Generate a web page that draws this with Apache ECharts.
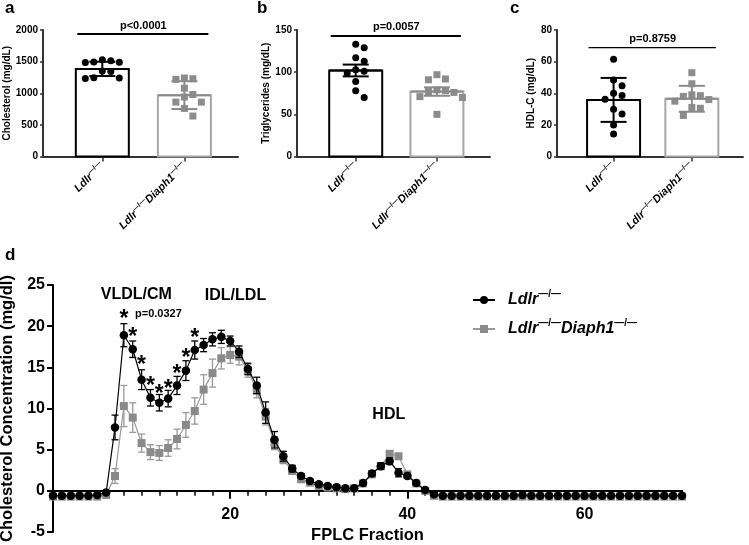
<!DOCTYPE html>
<html>
<head>
<meta charset="utf-8">
<script src="https://cdn.jsdelivr.net/npm/echarts@6.0.0/dist/echarts.min.js"></script>
<style>
  html, body { margin: 0; padding: 0; background: #fff; }
  #chart { width: 749px; height: 545px; }
</style>
</head>
<body>
<div id="chart"></div>
<script>
// groups
var groups = ['Ldlr-/-', 'Ldlr-/-Diaph1-/-'];

// a: plasma cholesterol (mg/dL)
var cholLdlr = [1530, 1515, 1495, 1490, 1485, 1350, 1345, 1245, 1240, 1235];
var cholDiaph = [1240, 1230, 1220, 1080, 980, 940, 860, 860, 760, 640];
var cholMean = [1385, 970];
var cholErr = [113, 220];

// b: triglycerides (mg/dL)
var tgLdlr = [133, 129, 117, 113, 103, 101, 99, 89, 78, 70];
var tgDiaph = [97, 92, 91, 79, 78, 77, 76, 71, 70, 50];
var tgMean = [102, 77];
var tgErr = [7, 5];

// c: HDL-C (mg/dL)
var hdlLdlr = [61.5, 48.4, 44.8, 40, 38.5, 36.2, 29.9, 26.8, 20, 14.3];
var hdlDiaph = [53, 46, 39, 38.5, 38, 36, 35, 31, 30.5, 26];
var hdlMean = [35.8, 36.5];
var hdlErr = [13.9, 8.2];

var pLabels = ['p<0.0001', 'p=0.0057', 'p=0.8759'];

// d: FPLC profile, fractions 0..71
var ldlrMean = [-0.6, -0.6, -0.6, -0.6, -0.6, -0.5, -0.2,
  7.7, 18.9, 17.2, 13.5, 11.3, 10.7, 11.2, 12.8, 14.6, 17.1,
  17.7, 18.4, 18.7, 18.2, 16.9, 14.8, 12.8, 9.5, 6.2, 4.2,
  2.7, 1.8, 1.2, 0.8, 0.6, 0.45, 0.3, 0.3, 0.95, 2.1,
  3.0, 3.6, 2.2, 1.8, 0.95, 0.1, -0.4,
  -0.6, -0.6, -0.6, -0.6, -0.6, -0.6, -0.6, -0.6, -0.6, -0.5, -0.6, -0.6, -0.6, -0.6,
  -0.6, -0.6, -0.6, -0.6, -0.6, -0.6, -0.6, -0.6, -0.6, -0.6, -0.6, -0.6, -0.6, -0.6];
var ldlrErr = [0.1, 0.1, 0.1, 0.1, 0.1, 0.1, 0.1,
  1.5, 1.4, 1.0, 1.2, 1.0, 1.0, 1.0, 1.1, 1.2, 1.1,
  0.8, 0.8, 0.8, 0.6, 0.7, 0.7, 1.0, 1.3, 1.0, 0.6,
  0.4, 0.3, 0.2, 0.2, 0.2, 0.2, 0.2, 0.2, 0.2, 0.3,
  0.4, 0.4, 0.5, 0.3, 0.2, 0.1, 0.1,
  0.1, 0.1, 0.1, 0.1, 0.1, 0.1, 0.1, 0.1, 0.1, 0.1, 0.1, 0.1, 0.1, 0.1,
  0.1, 0.1, 0.1, 0.1, 0.1, 0.1, 0.1, 0.1, 0.1, 0.1, 0.1, 0.1, 0.1, 0.1];
var diaphMean = [-0.7, -0.7, -0.7, -0.7, -0.7, -0.7, -0.5,
  1.8, 10.3, 8.9, 5.8, 4.7, 4.6, 5.2, 6.3, 8.0, 9.7,
  12.3, 14.3, 16.1, 16.5, 16.3, 14.6, 12.2, 9.0, 5.8, 3.8,
  2.4, 1.4, 1.0, 0.6, 0.4, 0.3, 0.2, 0.3, 0.9, 2.0,
  3.0, 4.5, 4.2, 2.0, 0.9, 0.0, -0.6,
  -0.7, -0.7, -0.7, -0.7, -0.7, -0.7, -0.7, -0.7, -0.7, -0.7, -0.7, -0.7, -0.7, -0.7,
  -0.7, -0.7, -0.7, -0.7, -0.7, -0.7, -0.7, -0.7, -0.7, -0.7, -0.7, -0.7, -0.7, -0.7];
var diaphErr = [0.1, 0.1, 0.1, 0.1, 0.1, 0.1, 0.1,
  0.9, 2.5, 1.8, 1.1, 0.9, 0.9, 1.0, 1.2, 1.5, 1.6,
  1.8, 1.7, 1.3, 1.0, 1.0, 0.8, 0.9, 1.0, 0.8, 0.5,
  0.3, 0.2, 0.2, 0.1, 0.1, 0.1, 0.1, 0.1, 0.2, 0.2,
  0.3, 0.3, 0.3, 0.2, 0.2, 0.1, 0.1,
  0.1, 0.1, 0.1, 0.1, 0.1, 0.1, 0.1, 0.1, 0.1, 0.1, 0.1, 0.1, 0.1, 0.1,
  0.1, 0.1, 0.1, 0.1, 0.1, 0.1, 0.1, 0.1, 0.1, 0.1, 0.1, 0.1, 0.1, 0.1];

// significance stars on the Ldlr curve
var starFrac = [8, 9, 10, 11, 12, 13, 14, 15, 16];
var starY = [21.6, 19.4, 16.0, 13.5, 12.5, 13.1, 15.0, 16.9, 19.3];

// peak labels
var annText = ['VLDL/CM', 'IDL/LDL', 'HDL', 'p=0.0327'];
var annX = [9.4, 20.6, 37.9, 11.9];
var annY = [23.8, 23.7, 9.2, 21.5];

var FONT = '"Liberation Sans", Arial, Helvetica, sans-serif';
var BLACK = '#000';
var GREY = '#8c8c8c';
var catPos = [0.73, 1.74];
var XMAX = 2.4;
var TOP = 30, H = 126.5;

function richName(name) {
  return name.split('-/-').filter(Boolean).map(function (p) {
    return '{i|' + p + '}{s|\u2014/\u2014}';
  }).join('');
}

// simple beeswarm: push dots sideways until they stop overlapping
function swarm(vals, pxPerY, d) {
  var placed = [], out = [];
  vals.forEach(function (v) {
    var y = v * pxPerY, off = 0;
    for (var k = 0; k < 40; k++) {
      off = k === 0 ? 0 : (k % 2 ? 1 : -1) * Math.ceil(k / 2) * d;
      var hit = placed.some(function (p) {
        return (p[0] - off) * (p[0] - off) + (p[1] - y) * (p[1] - y) < d * d * 0.95;
      });
      if (!hit) break;
    }
    placed.push([off, y]);
    out.push(off);
  });
  return out;
}

var tops = [
  { left: 43, width: 195, yMax: 2000, yStep: 500, title: 'Cholesterol (mg/dL)', gap: 28,
    dots: [cholLdlr, cholDiaph], mean: cholMean, err: cholErr, sigY: 1936, sigW: 2 },
  { left: 297, width: 193, yMax: 150, yStep: 50, title: 'Triglycerides (mg/dL)', gap: 24,
    dots: [tgLdlr, tgDiaph], mean: tgMean, err: tgErr, sigY: 143, sigW: 2 },
  { left: 557, width: 186, yMax: 80, yStep: 20, title: 'HDL-C (mg/dL)', gap: 21,
    dots: [hdlLdlr, hdlDiaph], mean: hdlMean, err: hdlErr, sigY: 68.8, sigW: 1.2 }
];

var grids = [], xAxes = [], yAxes = [], series = [];
var axisLine = { lineStyle: { color: '#333', width: 2 } };

tops.forEach(function (pn, i) {
  grids.push({ left: pn.left, top: TOP, width: pn.width, height: H, containLabel: false, outerBoundsMode: 'none' });
  xAxes.push({
    type: 'value', gridIndex: i, min: 0, max: XMAX,
    axisLine: axisLine, splitLine: { show: false },
    axisTick: { customValues: catPos, length: 5, lineStyle: { color: '#333', width: 1.5 } },
    axisLabel: {
      customValues: catPos, rotate: 45, margin: 8,
      formatter: function (v) { return richName(v < 1.2 ? groups[0] : groups[1]); },
      rich: {
        i: { fontFamily: FONT, fontSize: 11, fontWeight: 'bold', fontStyle: 'italic', color: '#000', lineHeight: 14 },
        s: { fontFamily: FONT, fontSize: 7, fontWeight: 'bold', color: '#000', verticalAlign: 'top', lineHeight: 7 }
      }
    }
  });
  yAxes.push({
    type: 'value', gridIndex: i, min: 0, max: pn.yMax, interval: pn.yStep,
    name: pn.title, nameLocation: 'middle', nameGap: pn.gap,
    nameTextStyle: { fontFamily: FONT, fontSize: 10, fontWeight: 'bold', color: '#000' },
    axisLine: { show: true, lineStyle: { color: '#333', width: 2 } },
    axisTick: { show: true, length: 3, lineStyle: { color: '#333', width: 1.5 } },
    axisLabel: { margin: 5, fontFamily: FONT, fontSize: 10, fontWeight: 'bold', color: '#000',
                 formatter: function (v) { return String(v); } },
    splitLine: { show: false }
  });

  var pxPerY = H / pn.yMax, pxPerX = pn.width / XMAX;
  var colors = [BLACK, GREY];
  var barEdge = [BLACK, '#a6a6a6'];

  series.push({
    type: 'custom', xAxisIndex: i, yAxisIndex: i, z: 1, silent: true,
    data: pn.mean.map(function (m, j) { return [catPos[j], m, j]; }),
    renderItem: function (params, api) {
      var base = api.coord([api.value(0), 0]);
      var tip = api.coord([api.value(0), api.value(1)]);
      return {
        type: 'rect',
        shape: { x: base[0] - 26.5, y: tip[1], width: 53, height: base[1] - tip[1] },
        style: { fill: '#fff', stroke: barEdge[api.value(2)], lineWidth: 2 }
      };
    }
  });

  pn.dots.forEach(function (vals, j) {
    var offs = swarm(vals, pxPerY, 8.5);
    series.push({
      type: 'scatter', name: 'dots' + i + j, xAxisIndex: i, yAxisIndex: i, z: 2, silent: true,
      symbol: j === 0 ? 'circle' : 'rect', symbolSize: 7,
      itemStyle: { color: colors[j], opacity: 1 },
      data: vals.map(function (v, k) { return [catPos[j] + offs[k] / pxPerX, v]; })
    });
  });

  series.push({
    type: 'custom', xAxisIndex: i, yAxisIndex: i, z: 3, silent: true,
    data: pn.mean.map(function (m, j) { return [catPos[j], m, pn.err[j], j]; }),
    renderItem: function (params, api) {
      var x = api.value(0), m = api.value(1), e = api.value(2);
      var hi = api.coord([x, m + e]), lo = api.coord([x, m - e]), mid = api.coord([x, m]);
      var st = { stroke: api.value(3) === 0 ? BLACK : '#8a8a8a', lineWidth: 2 };
      return { type: 'group', children: [
        { type: 'line', shape: { x1: hi[0], y1: hi[1], x2: lo[0], y2: lo[1] }, style: st },
        { type: 'line', shape: { x1: hi[0] - 13, y1: hi[1], x2: hi[0] + 13, y2: hi[1] }, style: st },
        { type: 'line', shape: { x1: lo[0] - 13, y1: lo[1], x2: lo[0] + 13, y2: lo[1] }, style: st },
        { type: 'line', shape: { x1: mid[0] - 26, y1: mid[1], x2: mid[0] + 26, y2: mid[1] }, style: st }
      ] };
    }
  });

  series.push({
    type: 'custom', xAxisIndex: i, yAxisIndex: i, z: 4, silent: true,
    data: [[catPos[0], catPos[1], pn.sigY]],
    encode: { x: [0, 1], y: 2 },
    renderItem: function (params, api) {
      var a = api.coord([api.value(0), api.value(2)]);
      var b = api.coord([api.value(1), api.value(2)]);
      return { type: 'group', children: [
        { type: 'line', shape: { x1: a[0] - 25, y1: a[1], x2: b[0] + 24, y2: b[1] },
          style: { stroke: '#000', lineWidth: pn.sigW } },
        { type: 'text', x: (a[0] + b[0]) / 2, y: a[1] - 3,
          style: { text: pLabels[i], font: 'bold 11px ' + FONT, fill: '#000',
                   align: 'center', verticalAlign: 'bottom', textAlign: 'center', textVerticalAlign: 'bottom' } }
      ] };
    }
  });
});

// ---- panel d ----
var fractions = ldlrMean.map(function (v, k) { return k; });
var dLabels = [20, 40, 60];
var minorTicks = [];
for (var t = 2; t <= 70; t += 2) { if (t % 20) minorTicks.push(t); }
var dFont = { fontFamily: FONT, fontSize: 16, fontWeight: 'bold', color: '#000' };

grids.push({ left: 53, top: 285, width: 629, height: 247, containLabel: false, outerBoundsMode: 'none' });
// x axis line at y = 0 with the major ticks
xAxes.push({
  type: 'value', gridIndex: 3, min: 0, max: 71, position: 'bottom',
  axisLine: { onZero: true, onZeroAxisIndex: 3, lineStyle: { color: '#000', width: 2 } },
  axisTick: { customValues: dLabels, length: 8, lineStyle: { color: '#000', width: 2 } },
  axisLabel: { show: false }, splitLine: { show: false }
});
// minor ticks every 2 fractions
xAxes.push({
  type: 'value', gridIndex: 3, min: 0, max: 71, position: 'bottom',
  axisLine: { show: true, onZero: true, onZeroAxisIndex: 3, lineStyle: { color: '#000', width: 2 } },
  axisTick: { customValues: minorTicks, length: 5, lineStyle: { color: '#000', width: 1.5 } },
  axisLabel: { show: false }, splitLine: { show: false }
});
// labels + title, hung from the grid bottom
xAxes.push({
  type: 'value', gridIndex: 3, min: 0, max: 71, position: 'bottom',
  name: 'FPLC Fraction', nameLocation: 'middle', nameGap: -5, nameMoveOverlap: false,
  nameTextStyle: { fontFamily: FONT, fontSize: 16.5, fontWeight: 'bold', color: '#000' },
  axisLine: { show: false, onZero: false }, axisTick: { show: false },
  axisLabel: Object.assign({ customValues: dLabels, margin: -25 }, dFont),
  splitLine: { show: false }
});
yAxes.push({
  type: 'value', gridIndex: 3, min: -5, max: 25, interval: 5,
  name: 'Cholesterol Concentration (mg/dl)', nameLocation: 'middle', nameGap: 36,
  nameTextStyle: { fontFamily: FONT, fontSize: 16.5, fontWeight: 'bold', color: '#000' },
  axisLine: { show: true, lineStyle: { color: '#000', width: 2 } },
  axisTick: { show: true, length: 6, lineStyle: { color: '#000', width: 2 } },
  axisLabel: Object.assign({ margin: 8 }, dFont),
  splitLine: { show: false }
});

function errSeries(mean, err, color, z) {
  return {
    type: 'custom', xAxisIndex: 3, yAxisIndex: 3, z: z, silent: true,
    data: fractions.map(function (f, k) { return [f, mean[k], err[k]]; }),
    renderItem: function (params, api) {
      var x = api.value(0), m = api.value(1), e = api.value(2);
      var hi = api.coord([x, m + e]), lo = api.coord([x, m - e]);
      var st = { stroke: color, lineWidth: 1.3 };
      return { type: 'group', children: [
        { type: 'line', shape: { x1: hi[0], y1: hi[1], x2: lo[0], y2: lo[1] }, style: st },
        { type: 'line', shape: { x1: hi[0] - 3.5, y1: hi[1], x2: hi[0] + 3.5, y2: hi[1] }, style: st },
        { type: 'line', shape: { x1: lo[0] - 3.5, y1: lo[1], x2: lo[0] + 3.5, y2: lo[1] }, style: st }
      ] };
    }
  };
}

series.push(errSeries(diaphMean, diaphErr, '#999', 5));
series.push({
  type: 'line', name: groups[1], xAxisIndex: 3, yAxisIndex: 3, z: 6, silent: true,
  symbol: 'rect', symbolSize: 8, showAllSymbol: true,
  itemStyle: { color: '#8a8a8a' },
  lineStyle: { color: '#999', width: 1.2 },
  data: fractions.map(function (f, k) { return [f, diaphMean[k]]; })
});
series.push(errSeries(ldlrMean, ldlrErr, '#000', 7));
series.push({
  type: 'line', name: groups[0], xAxisIndex: 3, yAxisIndex: 3, z: 8, silent: true,
  symbol: 'circle', symbolSize: 8.5, showAllSymbol: true,
  itemStyle: { color: '#000' },
  lineStyle: { color: '#000', width: 1.2 },
  data: fractions.map(function (f, k) { return [f, ldlrMean[k]]; })
});
series.push({
  type: 'scatter', name: 'stars', xAxisIndex: 3, yAxisIndex: 3, z: 9, silent: true,
  symbolSize: 0, itemStyle: { opacity: 1 },
  label: { show: true, position: 'inside', offset: [0, 7], formatter: '*',
           fontFamily: FONT, fontSize: 23, fontWeight: 'bold', color: '#000' },
  data: starFrac.map(function (f, k) { return [f, starY[k]]; })
});
series.push({
  type: 'scatter', name: 'notes', xAxisIndex: 3, yAxisIndex: 3, z: 9, silent: true,
  symbolSize: 0, itemStyle: { opacity: 1 },
  label: { show: true, position: 'inside', formatter: function (p) { return p.value[2]; },
           fontFamily: FONT, fontWeight: 'bold', color: '#000', fontSize: 16 },
  data: annText.map(function (s, k) {
    return { value: [annX[k], annY[k], s], label: k === 3 ? { fontSize: 11 } : {} };
  })
});

var option = {
  animation: false,
  backgroundColor: '#fff',
  textStyle: { fontFamily: FONT },
  grid: grids,
  xAxis: xAxes,
  yAxis: yAxes,
  legend: {
    data: groups, left: 472, top: 289, orient: 'vertical', padding: 0,
    itemWidth: 22, itemHeight: 10, itemGap: 10, selectedMode: false,
    formatter: richName,
    textStyle: {
      padding: [0, 0, 0, 8],
      rich: {
        i: { fontFamily: FONT, fontSize: 16, fontWeight: 'bold', fontStyle: 'italic', color: '#000', lineHeight: 22 },
        s: { fontFamily: FONT, fontSize: 10, fontWeight: 'bold', color: '#000', verticalAlign: 'top', lineHeight: 10 }
      }
    }
  },
  graphic: [
    { type: 'text', left: 5, top: 0, style: { text: 'a', font: 'bold 17px ' + FONT, fill: '#000' } },
    { type: 'text', left: 257, top: 0, style: { text: 'b', font: 'bold 17px ' + FONT, fill: '#000' } },
    { type: 'text', left: 510, top: 0, style: { text: 'c', font: 'bold 17px ' + FONT, fill: '#000' } },
    { type: 'text', left: 5, top: 247, style: { text: 'd', font: 'bold 17px ' + FONT, fill: '#000' } }
  ],
  series: series
};

var chart = echarts.init(document.getElementById('chart'));
chart.setOption(option);
</script>
</body>
</html>
